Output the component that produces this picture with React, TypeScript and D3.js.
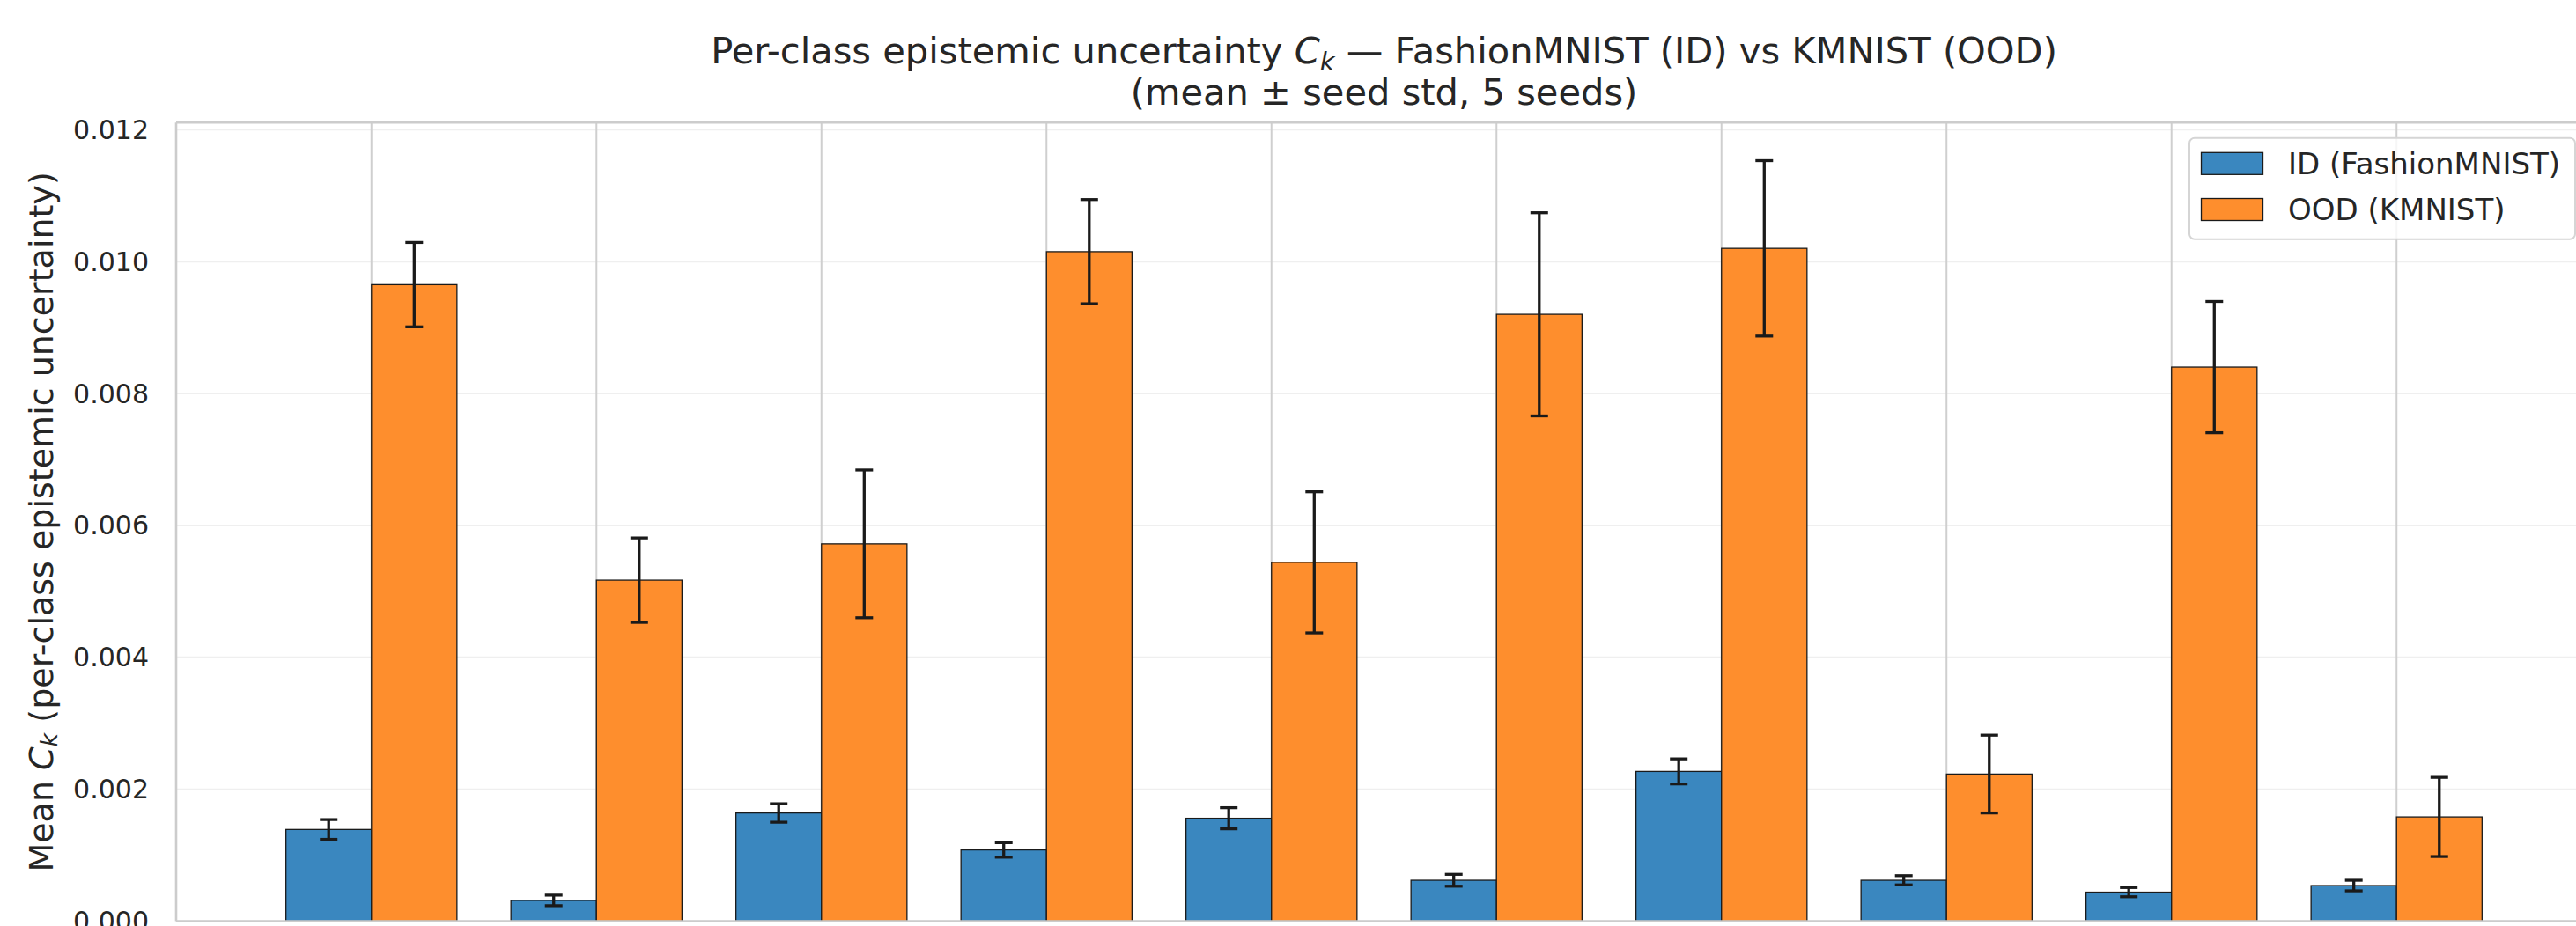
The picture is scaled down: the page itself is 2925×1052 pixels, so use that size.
import React from 'react';
import * as d3 from 'd3';

const categories = ['0', '1', '2', '3', '4', '5', '6', '7', '8', '9'];
const idMean = [0.00139, 0.000315, 0.00164, 0.00108, 0.00156, 0.00062, 0.00227, 0.00062, 0.00044, 0.00054];
const idStd = [0.00015, 0.00008, 0.00014, 0.00011, 0.00016, 0.00009, 0.00019, 0.00007, 0.00007, 0.00008];
const oodMean = [0.00965, 0.00517, 0.00572, 0.01015, 0.00544, 0.0092, 0.0102, 0.00223, 0.0084, 0.00158];
const oodStd = [0.00064, 0.00064, 0.00112, 0.00079, 0.00107, 0.00154, 0.00133, 0.00059, 0.000995, 0.0006];
const yTicks = [0, 0.002, 0.004, 0.006, 0.008, 0.01, 0.012];
const seriesNames = ['ID (FashionMNIST)', 'OOD (KMNIST)'];

const W = 2925;
const H = 1052;
const FONT = 'DejaVu Sans, sans-serif';
const TXT = '#262626';
const BLUE = '#3a87bf';
const ORANGE = '#fe8e2d';

export default function App() {
  React.useEffect(() => {
    document.body.style.margin = '0';
  }, []);
  const left = 200;
  const right = 2943;
  const top = 139.3;
  const bottom = 1046.5;
  const bw = 0.38;
  const n = categories.length;
  const x0 = -bw, x1 = n - 1 + bw;
  const span = x1 - x0;
  const x = d3.scaleLinear().domain([x0 - 0.05 * span, x1 + 0.05 * span]).range([left, right]);
  const yMax = d3.max(oodMean.map((v, i) => v + oodStd[i]))! * 1.05;
  const y = d3.scaleLinear().domain([0, yMax]).range([bottom, top]);
  const fmt = d3.format('.3f');
  const cap = 10;

  const series = [
    { mean: idMean, std: idStd, color: BLUE, off: -bw },
    { mean: oodMean, std: oodStd, color: ORANGE, off: 0 },
  ];

  const legX = 2486, legY = 156.7, legW = 438, legH = 115;

  return (
    <svg width={W} height={H} style={{ position: 'absolute', left: 0, top: 0, background: '#fff' }} fontFamily={FONT}>
      <rect x={0} y={0} width={W} height={H} fill="#fff" />
      {/* horizontal grid */}
      {yTicks.map((t) => (
        <line key={'hg' + t} x1={left} x2={right} y1={y(t)} y2={y(t)} stroke="#efefef" strokeWidth={2} />
      ))}
      {/* vertical grid */}
      {categories.map((c, i) => (
        <line key={'vg' + c} x1={x(i)} x2={x(i)} y1={top} y2={bottom} stroke="#cfcfcf" strokeWidth={2} />
      ))}
      {/* bars */}
      {series.map((s, si) =>
        s.mean.map((v, i) => (
          <rect
            key={'b' + si + '-' + i}
            x={x(i + s.off)}
            y={y(v)}
            width={x(i + s.off + bw) - x(i + s.off)}
            height={y(0) - y(v)}
            fill={s.color}
            stroke="#1a1a1a"
            strokeWidth={1.3}
          />
        ))
      )}
      {/* error bars */}
      {series.map((s, si) =>
        s.mean.map((v, i) => {
          const cx = x(i + s.off + bw / 2);
          const yt = y(v + s.std[i]);
          const yb = y(v - s.std[i]);
          return (
            <g key={'e' + si + '-' + i} stroke="#1a1a1a" strokeWidth={3.3}>
              <line x1={cx} x2={cx} y1={yt} y2={yb} />
              <line x1={cx - cap} x2={cx + cap} y1={yt} y2={yt} />
              <line x1={cx - cap} x2={cx + cap} y1={yb} y2={yb} />
            </g>
          );
        })
      )}
      {/* spines */}
      <line x1={left} x2={left} y1={top} y2={bottom} stroke="#cccccc" strokeWidth={2.6} />
      <line x1={left} x2={right} y1={top} y2={top} stroke="#cccccc" strokeWidth={2.6} />
      <line x1={left} x2={right} y1={bottom} y2={bottom} stroke="#cccccc" strokeWidth={2.6} />
      <line x1={right} x2={right} y1={top} y2={bottom} stroke="#cccccc" strokeWidth={2.6} />
      {/* y tick labels */}
      {yTicks.map((t) => (
        <text key={'yt' + t} x={169} y={y(t)} textAnchor="end" dominantBaseline="central" fontSize={30} fill={TXT}>
          {fmt(t)}
        </text>
      ))}
      {/* y label */}
      <text
        transform={`translate(47, ${(top + bottom) / 2}) rotate(-90)`}
        textAnchor="middle"
        dominantBaseline="central"
        fontSize={38}
        fill={TXT}
      >
        <tspan>Mean </tspan>
        <tspan fontStyle="italic">C</tspan>
        <tspan fontStyle="italic" fontSize={27} dy={8}>k</tspan>
        <tspan dy={-8}> (per-class epistemic uncertainty)</tspan>
      </text>
      {/* title */}
      <text x={(left + right) / 2} y={72} textAnchor="middle" fontSize={41.6} fill={TXT}>
        <tspan>Per-class epistemic uncertainty </tspan>
        <tspan fontStyle="italic">C</tspan>
        <tspan fontStyle="italic" fontSize={29} dy={8}>k</tspan>
        <tspan dy={-8}> — FashionMNIST (ID) vs KMNIST (OOD)</tspan>
      </text>
      <text x={(left + right) / 2} y={119} textAnchor="middle" fontSize={41.6} fill={TXT}>
        (mean ± seed std, 5 seeds)
      </text>
      {/* legend */}
      <rect x={legX} y={legY} width={legW} height={legH} rx={6} fill="#fff" fillOpacity={0.8} stroke="#d5d5d5" strokeWidth={2} />
      {seriesNames.map((name, i) => (
        <g key={'lg' + i}>
          <rect x={2499.5} y={173.3 + i * 52.2} width={70} height={25} fill={series[i].color} stroke="#1a1a1a" strokeWidth={1.3} />
          <text x={2598} y={185.8 + i * 52.2} dominantBaseline="central" fontSize={34} fill={TXT}>
            {name}
          </text>
        </g>
      ))}
    </svg>
  );
}
